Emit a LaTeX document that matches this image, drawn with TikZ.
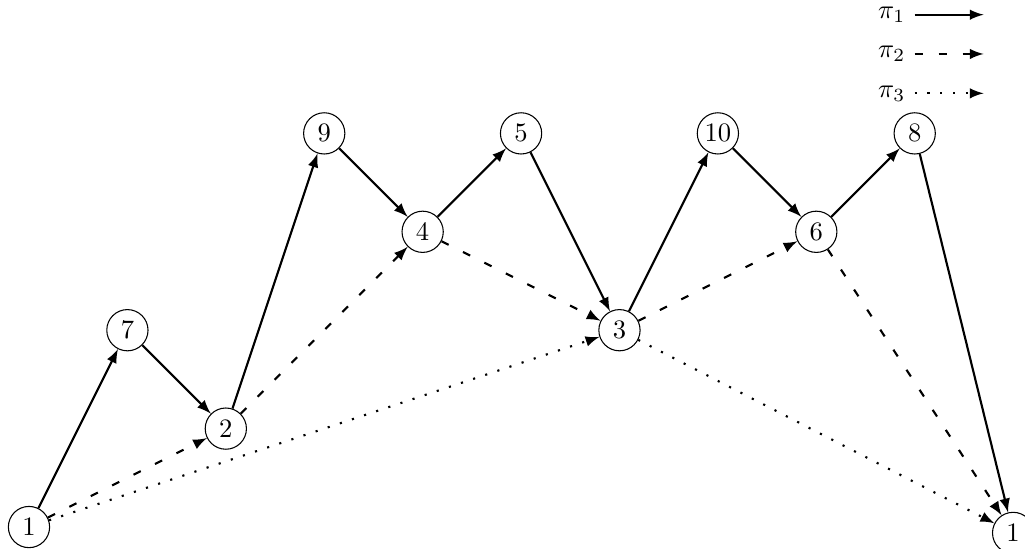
\documentclass[tikz,border=0pt]{standalone}
\usepackage[table]{xcolor}
\usepackage{tikz}
\usepackage{mathtools}

\begin{document}
\begin{tikzpicture}[x=1.3cm, y=1.3cm,
		vertex/.style={circle, draw, minimum size=15.5pt, inner sep=0pt},
		solidpath/.style={thick, -latex},
		dashpath/.style={thick, loosely dashed, -latex},
		dotpath/.style={thick, loosely dotted, -latex}]
			\useasboundingbox (-0.383cm,-0.277cm) rectangle (13.157cm,6.962cm);
			%{\draw[help lines] (0,0) grid (10,4);}
			{\node[vertex] (s) at (0,0) {1};}
			{\node[vertex] (n7) at (1,2) {7};}
			{\node[vertex] (n2) at (2,1) {2};}
			{\node[vertex] (n9) at (3,4) {9};}
			{\node[vertex] (n4) at (4,3) {4};}
			{\node[vertex] (n5) at (5,4) {5};}
			{\node[vertex] (n3) at (6,2) {3};}
			{\node[vertex] (n10) at (7,4) {10};}
			{\node[vertex] (n6) at (8,3) {6};}
			{\node[vertex] (n8) at (9,4) {8};}
			{\node[vertex] (t) at (10,-0.06) {1};}
			% pi_1
			{\draw[solidpath] (s) -- (n7);}
			{\draw[solidpath] (n7) -- (n2);}
			{\draw[solidpath] (n2) -- (n9);}
			{\draw[solidpath] (n9) -- (n4);}
			{\draw[solidpath] (n4) -- (n5);}
			{\draw[solidpath] (n5) -- (n3);}
			{\draw[solidpath] (n3) -- (n10);}
			{\draw[solidpath] (n10) -- (n6);}
			{\draw[solidpath] (n6) -- (n8);}
			{\draw[solidpath] (n8) -- (t);}
			% pi_2
			{\draw[dashpath] (s) -- (n2);}
			{\draw[dashpath] (n2) -- (n4);}
			{\draw[dashpath] (n4) -- (n3);}
			{\draw[dashpath] (n3) -- (n6);}
			{\draw[dashpath] (n6) -- (t);}
			% pi_3
			{\draw[dotpath] (s) -- (n3);}
			{\draw[dotpath] (n3) -- (t);}
			% legend
			{\node[anchor=east] (l1) at (9.0,5.206) {$\pi_1$};}
			{\node[anchor=east] (l2) at (9.0,4.807) {$\pi_2$};}
			{\node[anchor=east] (l3) at (9.0,4.407) {$\pi_3$};}
			{\coordinate (e1) at (9.70,5.206);}
			{\coordinate (e2) at (9.70,4.807);}
			{\coordinate (e3) at (9.70,4.407);}
			{\draw[solidpath] (l1) -- (e1);}
			{\draw[dashpath] (l2) -- (e2);}
			{\draw[dotpath] (l3) -- (e3);}
		\end{tikzpicture}
\end{document}
